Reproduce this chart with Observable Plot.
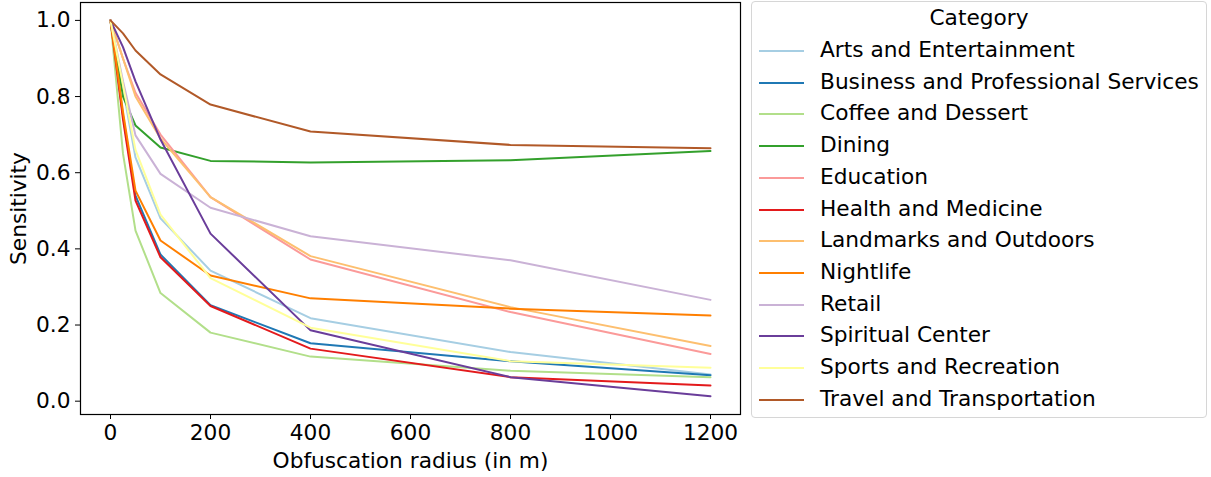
<!DOCTYPE html>
<html>
<head>
<meta charset="utf-8">
<script src="https://cdn.jsdelivr.net/npm/d3@7"></script>
<script src="https://cdn.jsdelivr.net/npm/@observablehq/plot@0.6"></script>
<style>
  html, body { margin: 0; padding: 0; background: #fff; }
  body { width: 1211px; height: 477px; overflow: hidden; font-family: "DejaVu Sans", sans-serif; }
  #wrap { position: relative; width: 1211px; height: 477px; }
  #chart { position: absolute; left: 0; top: 0; }
  #legend { position: absolute; left: 751px; top: 1px; width: 456px; height: 417px; box-sizing: border-box;
            border: 1px solid #d6d6d6; border-radius: 4px; background: #fff; font-size: 21.7px; color: #000; }
  #legend .title { position: absolute; left: 0; width: 100%; top: 3px; text-align: center; }
  #legend .row { position: absolute; left: 0; height: 30px; white-space: nowrap; }
  #legend .swatch { position: absolute; left: 7px; width: 45px; height: 2px; }
  #legend .lab { position: absolute; left: 68px; }
</style>
</head>
<body>
<div id="wrap">
  <div id="chart"></div>
  <div id="legend"></div>
</div>
<script>
const radii = [0, 25, 50, 100, 200, 400, 800, 1200];

const categories = [
  "Arts and Entertainment",
  "Business and Professional Services",
  "Coffee and Dessert",
  "Dining",
  "Education",
  "Health and Medicine",
  "Landmarks and Outdoors",
  "Nightlife",
  "Retail",
  "Spiritual Center",
  "Sports and Recreation",
  "Travel and Transportation"
];

const colors = ["#a6cee3", "#1f78b4", "#b2df8a", "#33a02c", "#fb9a99", "#e31a1c",
                "#fdbf6f", "#ff7f00", "#cab2d6", "#6a3d9a", "#ffff99", "#b15928"];

const arts       = [1.0, 0.82, 0.64, 0.48, 0.343, 0.218, 0.129, 0.070];
const business   = [1.0, 0.75, 0.54, 0.385, 0.252, 0.152, 0.105, 0.068];
const coffee     = [1.0, 0.65, 0.448, 0.284, 0.180, 0.117, 0.080, 0.063];
const dining     = [1.0, 0.80, 0.724, 0.666, 0.631, 0.627, 0.633, 0.657];
const education  = [1.0, 0.90, 0.81, 0.70, 0.536, 0.372, 0.234, 0.124];
const health     = [1.0, 0.74, 0.527, 0.378, 0.250, 0.138, 0.063, 0.041];
const landmarks  = [1.0, 0.90, 0.80, 0.69, 0.536, 0.381, 0.247, 0.145];
const nightlife  = [1.0, 0.76, 0.553, 0.422, 0.330, 0.270, 0.243, 0.225];
const retail     = [1.0, 0.84, 0.698, 0.597, 0.508, 0.433, 0.370, 0.266];
const spiritual  = [1.0, 0.93, 0.84, 0.687, 0.440, 0.186, 0.063, 0.013];
const sports     = [1.0, 0.83, 0.66, 0.49, 0.323, 0.193, 0.105, 0.088];
const travel     = [1.0, 0.966, 0.921, 0.858, 0.779, 0.708, 0.673, 0.664];

const xTicks = [0, 200, 400, 600, 800, 1000, 1200];
const yTicks = [0.0, 0.2, 0.4, 0.6, 0.8, 1.0];

const series = [arts, business, coffee, dining, education, health, landmarks,
                nightlife, retail, spiritual, sports, travel];

const data = [];
categories.forEach((c, i) => {
  series[i].forEach((v, j) => data.push({category: c, radius: radii[j], value: v}));
});

const chart = Plot.plot({
  width: 750,
  height: 477,
  marginLeft: 80,
  marginRight: 10,
  marginTop: 2,
  marginBottom: 63,
  style: {fontFamily: "DejaVu Sans, sans-serif", fontSize: "21.7px", color: "#000", background: "#fff"},
  x: {domain: [-60, 1260]},
  y: {domain: [-0.035, 1.047]},
  color: {domain: categories, range: colors},
  marks: [
    Plot.line(data, {x: "radius", y: "value", z: "category", stroke: "category", strokeWidth: 2}),
    Plot.frame({stroke: "#000", strokeWidth: 1.2}),
    Plot.axisX({ticks: xTicks, tickSize: 5, tickPadding: 5, tickFormat: d3.format("d"), fontSize: "21.7px",
                label: "Obfuscation radius (in m)", labelAnchor: "center", labelArrow: "none", labelOffset: 53}),
    Plot.axisY({ticks: yTicks, tickSize: 5, tickPadding: 5, tickFormat: d3.format(".1f"), fontSize: "21.7px",
                label: "Sensitivity", labelAnchor: "center", labelArrow: "none", labelOffset: 70})
  ]
});
document.getElementById("chart").appendChild(chart);

const legend = document.getElementById("legend");
const title = document.createElement("div");
title.className = "title";
title.textContent = "Category";
legend.appendChild(title);
categories.forEach((c, i) => {
  const row = document.createElement("div");
  row.className = "row";
  row.style.top = (34 + i * 31.7) + "px";
  const sw = document.createElement("div");
  sw.className = "swatch";
  sw.style.background = colors[i];
  sw.style.top = "14px";
  const lab = document.createElement("div");
  lab.className = "lab";
  lab.textContent = c;
  lab.style.top = "1px";
  row.appendChild(sw);
  row.appendChild(lab);
  legend.appendChild(row);
});
</script>
</body>
</html>
